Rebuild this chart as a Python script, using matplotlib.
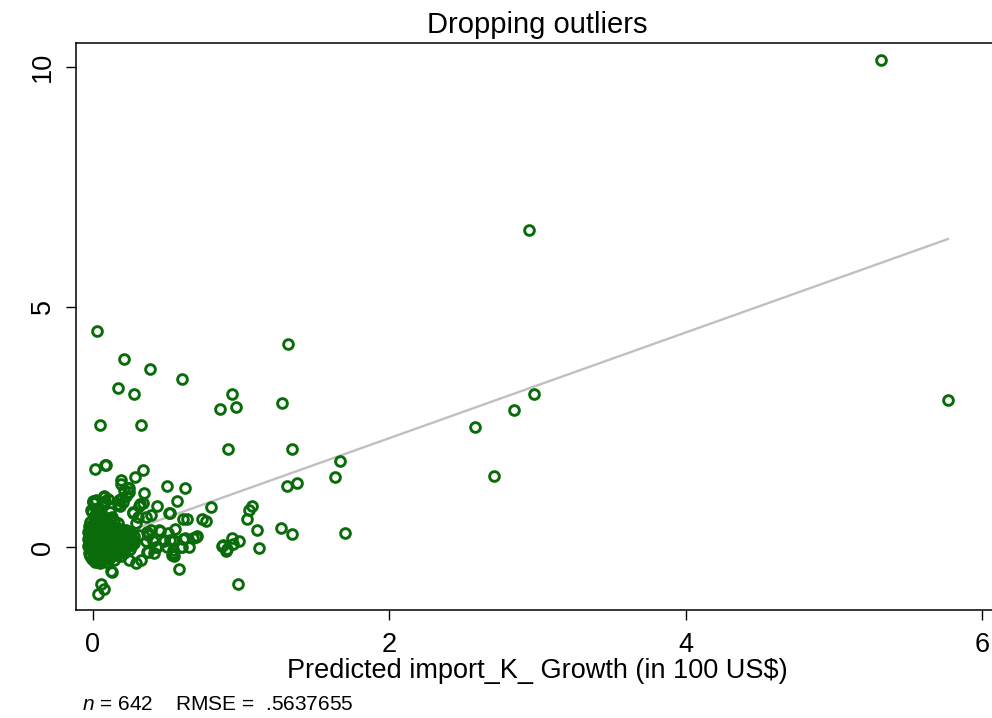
import matplotlib
matplotlib.use("Agg")
import matplotlib.pyplot as plt
import numpy as np

plt.rcParams['font.family'] = ['Liberation Sans', 'DejaVu Sans']
plt.rcParams['mathtext.fontset'] = 'custom'
plt.rcParams['mathtext.it'] = 'Liberation Sans:italic'
plt.rcParams['mathtext.rm'] = 'Liberation Sans'

# Predicted growth (x) vs observed growth (y), outliers dropped
spread_x = [5.315, 2.943, 5.767, 2.976, 2.841, 2.578, 2.706, 1.665, 1.636, 1.70,
            1.315, 1.277, 1.345, 1.38, 1.308, 1.272, 1.346,
            0.029, 0.213, 0.384, 0.60, 0.173, 0.276, 0.941, 0.86, 0.964,
            0.047, 0.324, 0.912, 0.013, 0.083, 0.087, 0.339, 0.287, 0.19,
            0.191, 0.213, 0.243, 0.348, 0.50, 0.624, 0.078, 0.004, 0.011, 0.083,
            0.198, 0.206, 0.319, 0.337, 0.566, 0.434, -0.007, 0.022, 0.117, 0.184,
            0.274, 0.391, 0.521, 0.798, 1.038, 1.054, 1.076, 1.108, 1.121, 0.611,
            0.636, 0.735, 0.764, 0.555, 0.452, 0.368, 0.695, 0.679, 0.607, 0.521,
            0.499, 0.432, 0.364, 0.544, 0.55, 0.651, 0.60, 0.58, 0.874, 0.897,
            0.937, 0.946, 0.989, 0.978, 0.128, 0.058, 0.074, 0.036, 0.034,
            0.409, 0.48, 0.535, 0.62, 0.701, 0.881, 0.903, 0.595,
            0.236, 0.247, 0.225, 0.179, 0.169, 0.078, 0.101, 0.078, 0.0, 0.022,
            0.314, -0.011, 0.034, 0.056, 0.27, 0.303, 0.359, 0.517, 0.449, 0.506,
            0.483, 0.393, 0.371, 0.359, 0.539, 0.539, 0.427, 0.371, 0.415, 0.123,
            0.169, 0.225, 0.292, 0.258, 0.314, 0.326, 0.292, 0.247,
            0.009, 0.041, 0.066, 0.118, 0.142, 0.018, 0.052, 0.096, 0.131]
spread_y = [10.13, 6.61, 3.06, 3.19, 2.85, 2.50, 1.48, 1.80, 1.47, 0.30,
            4.23, 3.01, 2.04, 1.34, 1.27, 0.41, 0.27,
            4.50, 3.91, 3.70, 3.51, 3.31, 3.18, 3.19, 2.875, 2.92,
            2.54, 2.54, 2.04, 1.62, 1.71, 1.72, 1.60, 1.47, 1.40,
            1.32, 1.20, 1.23, 1.12, 1.28, 1.24, 1.05, 0.96, 0.92, 0.96,
            1.03, 0.95, 0.89, 0.915, 0.97, 0.86, 0.73, 0.79, 0.73, 0.865,
            0.73, 0.67, 0.71, 0.83, 0.59, 0.775, 0.865, 0.36, -0.02, 0.58,
            0.595, 0.59, 0.55, 0.39, 0.34, 0.31, 0.22, 0.19, 0.17, 0.15,
            0.01, 0.0, -0.09, -0.125, -0.18, 0.01, 0.01, -0.445, 0.03, -0.07,
            0.19, 0.06, 0.14, -0.77, -0.51, -0.76, -0.86, -0.98, -0.30,
            0.12, 0.15, -0.16, 0.19, 0.23, 0.05, -0.04, 0.0,
            1.23, 1.16, 1.07, 0.98, 0.90, 1.07, 1.0, 0.93, 0.95, 0.98,
            0.86, 0.78, 0.81, 0.71, 0.71, 0.64, 0.62, 0.71, 0.36, 0.29,
            0.12, 0.36, 0.26, 0.12, 0.15, -0.06, 0.01, -0.09, -0.125, -0.49,
            0.50, 0.36, 0.50, 0.29, 0.26, -0.26, -0.33, -0.26,
            0.62, 0.60, 0.64, 0.58, 0.55, 0.68, 0.66, 0.61, 0.64]

# Dense core of small predicted values
core_x = [-0.02, 0.012, 0.041, 0.068, 0.097,
          -0.028, 0.003, 0.031, 0.062, 0.088, 0.121, 0.148,
          -0.019, 0.014, 0.038, 0.071, 0.102, 0.127, 0.162, 0.188,
          -0.031, 0.002, 0.029, 0.058, 0.093, 0.118, 0.149, 0.181, 0.207, 0.238,
          -0.022, 0.011, 0.043, 0.069, 0.098, 0.133, 0.158, 0.192, 0.219, 0.251, 0.277,
          -0.029, 0.004, 0.027, 0.061, 0.089, 0.122, 0.151, 0.178, 0.213, 0.242, 0.268,
          -0.018, 0.009, 0.042, 0.072, 0.103, 0.128, 0.163, 0.187, 0.221, 0.249, 0.281,
          -0.032, -0.004, 0.033, 0.057, 0.091, 0.119, 0.147, 0.183, 0.209, 0.236, 0.266,
          -0.021, 0.013, 0.039, 0.067, 0.099, 0.131, 0.159, 0.188, 0.217, 0.252,
          -0.027, 0.006, 0.031, 0.063, 0.092, 0.118, 0.152, 0.179, 0.208,
          -0.016, 0.015, 0.044, 0.073, 0.101, 0.129, 0.161, 0.192,
          -0.008, 0.022, 0.052, 0.083, 0.112, 0.141,
          0.012, 0.048, 0.088]
core_y = [0.52, 0.53, 0.51, 0.52, 0.50,
          0.45, 0.44, 0.46, 0.45, 0.44, 0.45, 0.43,
          0.38, 0.37, 0.39, 0.38, 0.37, 0.38, 0.39, 0.37,
          0.31, 0.30, 0.32, 0.31, 0.30, 0.31, 0.32, 0.30, 0.31, 0.29,
          0.24, 0.23, 0.25, 0.24, 0.23, 0.24, 0.25, 0.23, 0.24, 0.22, 0.24,
          0.17, 0.16, 0.18, 0.17, 0.16, 0.17, 0.18, 0.16, 0.17, 0.16, 0.18,
          0.10, 0.09, 0.11, 0.10, 0.09, 0.10, 0.11, 0.09, 0.10, 0.11, 0.09,
          0.03, 0.02, 0.04, 0.03, 0.02, 0.03, 0.04, 0.02, 0.03, 0.02, 0.04,
          -0.04, -0.05, -0.03, -0.04, -0.05, -0.04, -0.03, -0.05, -0.04, -0.03,
          -0.11, -0.12, -0.10, -0.11, -0.12, -0.11, -0.10, -0.12, -0.11,
          -0.18, -0.19, -0.17, -0.18, -0.19, -0.18, -0.17, -0.19,
          -0.25, -0.24, -0.26, -0.25, -0.24, -0.26,
          -0.31, -0.32, -0.30]

# Linear fit reported for the full sample
fit_intercept = 0.071
fit_slope = 1.0995

title_text = "Dropping outliers"
xlabel_text = "Predicted import_K_ Growth (in 100 US$)"
x_ticks = [0, 2, 4, 6]
y_ticks = [0, 5, 10]
note_n = 642
note_rmse = ".5637655"

xs = np.array(spread_x + core_x)
ys = np.array(spread_y + core_y)

fig = plt.figure(figsize=(9.92, 7.18), dpi=100)
ax = fig.add_axes([76 / 992, 108 / 718, 922 / 992, 567 / 718])

fit_x = np.array([xs.min(), xs.max()])
ax.plot(fit_x, fit_intercept + fit_slope * fit_x, color='#c0c0c0', lw=1.7, zorder=1)
ax.plot(xs, ys, linestyle='none', marker='o', markersize=7.0, mfc='none',
        mec='#0a6b0a', mew=2.1, zorder=2)

ax.set_xlim(-0.113, 6.105)
ax.set_ylim(-1.305, 10.49)
ax.set_xticks(x_ticks)
ax.set_yticks(y_ticks)
ax.tick_params(axis='both', direction='out', length=7.5, width=1.0,
               labelsize=19.5, color='black')
ax.tick_params(axis='x', pad=8)
ax.tick_params(axis='y', pad=7)
for lab in ax.get_yticklabels():
    lab.set_rotation(90)
    lab.set_va('center')
for s in ax.spines.values():
    s.set_linewidth(1.1)
ax.spines['right'].set_visible(False)

ax.set_title(title_text, fontsize=21, pad=7)
ax.set_xlabel(xlabel_text, fontsize=19.5, labelpad=0)

fig.text(82 / 992, 1 - 704 / 718,
         r"$\mathit{n}$ = %d    RMSE =  %s" % (note_n, note_rmse),
         fontsize=15, va='center', ha='left')

fig.savefig("out.png", dpi=100)
